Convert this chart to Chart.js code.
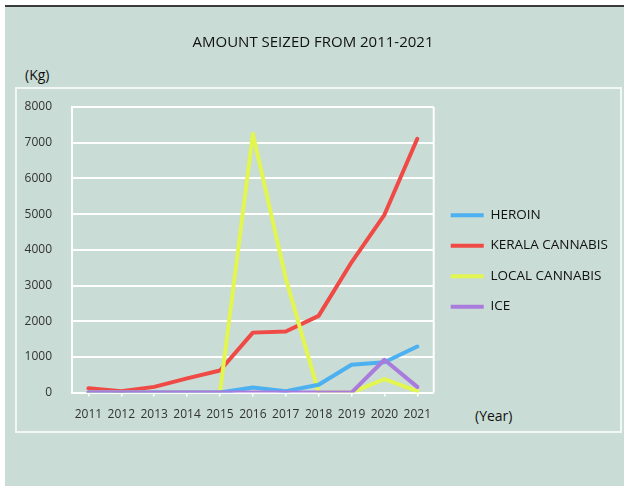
<!DOCTYPE html>
<html>
<head>
<meta charset="utf-8">
<script src="https://cdn.jsdelivr.net/npm/chart.js@4"></script>
<style>
  body { margin: 0; background: #fff; font-family: "Open Sans", sans-serif; }
  #fundo { position: absolute; left: 5px; top: 5px; width: 619px; height: 481px; background: #c9dcd5; border-top: 2px solid #3b3b3b; box-sizing: border-box; }
  #moldura { position: absolute; left: 15px; top: 87px; width: 607px; height: 346px; border: 2px solid #f2f7f5; box-sizing: border-box; }
  .unidade { position: absolute; font-size: 14px; line-height: 20px; color: #111; }
  #grafico { position: absolute; left: 0; top: 0; width: 624px; height: 486px; }
</style>
</head>
<body>
<div id="fundo"></div>
<div id="moldura"></div>
<div class="unidade" style="left:25px; top:65px;">(Kg)</div>
<div class="unidade" style="left:475px; top:406px;">(Year)</div>
<div id="grafico"><canvas id="drogasChart"></canvas></div>

<script>
const anos = ["2011", "2012", "2013", "2014", "2015", "2016", "2017", "2018", "2019", "2020", "2021"];
const heroin = [0, 0, 0, 0, 0, 140, 40, 220, 780, 850, 1290];
const keralaCannabis = [120, 40, 160, 400, 620, 1680, 1710, 2150, 3650, 4980, 7110];
const localCannabis = [0, 0, 0, 0, 0, 7250, 3200, 0, 0, 380, 40];
const ice = [0, 0, 0, 0, 0, 0, 0, 0, 0, 920, 160];
const yTicks = [0, 1000, 2000, 3000, 4000, 5000, 6000, 7000, 8000];

const fonte = "'Open Sans', sans-serif";

// linha branca do lado direito da area do grafico
const molduraPlugin = {
  id: "molduraPlugin",
  beforeDatasetsDraw(chart) {
    const { ctx, chartArea } = chart;
    ctx.save();
    ctx.strokeStyle = "#ffffff";
    ctx.lineWidth = 2;
    ctx.beginPath();
    ctx.moveTo(chartArea.right, chart.scales.y.getPixelForValue(8000));
    ctx.lineTo(chartArea.right, chart.scales.y.getPixelForValue(0));
    ctx.stroke();
    ctx.restore();
  },
};

function linha(label, dados, cor, ordem) {
  return {
    label: label,
    data: dados,
    borderColor: cor,
    backgroundColor: cor,
    borderWidth: 4,
    borderCapStyle: "round",
    borderJoinStyle: "round",
    pointRadius: 0,
    tension: 0,
    order: ordem,
  };
}

window.onload = function () {
  const ctx = document.getElementById("drogasChart").getContext("2d");

  new Chart(ctx, {
    type: "line",
    data: {
      labels: anos,
      datasets: [
        linha("HEROIN", heroin, "#4db0f0", 1),
        linha("KERALA CANNABIS", keralaCannabis, "#ef4a45", 3),
        linha("LOCAL CANNABIS", localCannabis, "#e2f550", 2),
        linha("ICE", ice, "#a97bdd", 0),
      ],
    },
    options: {
      responsive: true,
      maintainAspectRatio: false,
      animation: false,
      layout: {
        padding: { left: 8, right: 6, top: 0, bottom: 53 },
      },
      plugins: {
        title: {
          display: true,
          text: "AMOUNT SEIZED FROM 2011-2021",
          color: "#111",
          font: { family: fonte, size: 15, weight: "normal" },
          padding: { top: 34, bottom: 55 },
        },
        legend: {
          position: "right",
          align: "start",
          maxWidth: 300,
          // titulo vazio so para empurrar os itens para baixo
          title: {
            display: true,
            text: "",
            font: { size: 12 },
            padding: { top: 177, bottom: 0 },
          },
          labels: {
            usePointStyle: true,
            pointStyle: "line",
            pointStyleWidth: 33,
            padding: 17,
            color: "#111",
            font: { family: fonte, size: 13.5 },
            sort: (a, b) => a.datasetIndex - b.datasetIndex,
          },
        },
        tooltip: { enabled: false },
      },
      scales: {
        x: {
          offset: true,
          grid: {
            drawOnChartArea: false,
            color: "#ffffff",
            lineWidth: 1.5,
            tickLength: 4,
          },
          border: { display: false },
          ticks: {
            color: "#333",
            padding: 11,
            maxRotation: 0,
            font: { family: fonte, size: 12 },
          },
        },
        y: {
          min: 0,
          max: 8000,
          afterBuildTicks: (axis) => {
            axis.ticks = yTicks.map((v) => ({ value: v }));
          },
          afterFit: (axis) => {
            axis.width = 64;
          },
          grid: {
            color: "#ffffff",
            lineWidth: 2,
            drawTicks: false,
          },
          border: { display: true, color: "#ffffff", width: 2 },
          ticks: {
            color: "#333",
            padding: 20,
            font: { family: fonte, size: 12 },
            callback: (valor) => String(valor),
          },
        },
      },
    },
    plugins: [molduraPlugin],
  });
};
</script>
</body>
</html>
